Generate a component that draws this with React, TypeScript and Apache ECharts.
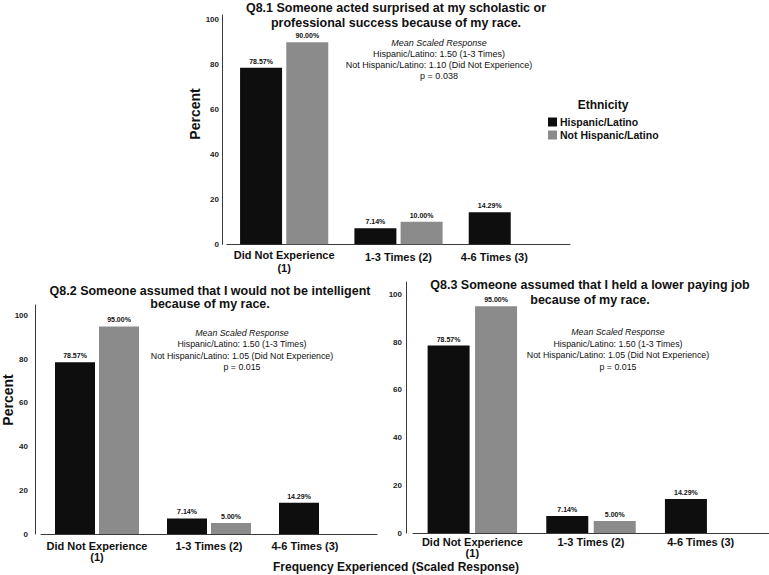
import React, { useEffect, useRef } from 'react';
import * as echarts from 'echarts';

const categories = ['Did Not Experience\n(1)', '1-3 Times (2)', '4-6 Times (3)'];
const groupNames = ['Hispanic/Latino', 'Not Hispanic/Latino'];

const q81Hispanic = [78.57, 7.14, 14.29];
const q81NotHispanic = [90.0, 10.0, null];
const q82Hispanic = [78.57, 7.14, 14.29];
const q82NotHispanic = [95.0, 5.0, null];
const q83Hispanic = [78.57, 7.14, 14.29];
const q83NotHispanic = [95.0, 5.0, null];

const titles = [
  'Q8.1 Someone acted surprised at my scholastic or\nprofessional success because of my race.',
  'Q8.2 Someone assumed that I would not be intelligent\nbecause of my race.',
  'Q8.3 Someone assumed that I held a lower paying job\nbecause of my race.',
];

const notes = [
  ['Mean Scaled Response', 'Hispanic/Latino: 1.50 (1-3 Times)', 'Not Hispanic/Latino: 1.10 (Did Not Experience)', 'p = 0.038'],
  ['Mean Scaled Response', 'Hispanic/Latino: 1.50 (1-3 Times)', 'Not Hispanic/Latino: 1.05 (Did Not Experience)', 'p = 0.015'],
  ['Mean Scaled Response', 'Hispanic/Latino: 1.50 (1-3 Times)', 'Not Hispanic/Latino: 1.05 (Did Not Experience)', 'p = 0.015'],
];

const yTicks = [0, 20, 40, 60, 80, 100];

const FONT = '"Liberation Sans", Arial, Helvetica, sans-serif';
const BLACK = '#0e0e0e';
const GRAY = '#8b8b8b';
const AXIS = '#3a3a3a';

export default function App() {
  const ref = useRef<HTMLDivElement>(null);

  useEffect(() => {
    if (!ref.current) return;
    const chart = echarts.init(ref.current, undefined, { renderer: 'svg' });

    const panels = [
      { left: 227, top: 15, width: 343, height: 229.3, max: 102.1, yOffset: 5, yMargin: 3, barWidth: 42, barGap: '10%', xMargin: 4, lh: 13, singlePad: 4, cat3Pad: 37, data: [q81Hispanic, q81NotHispanic] },
      { left: 41, top: 305, width: 336, height: 229, max: 104.8, yOffset: 6, yMargin: 7, barWidth: 40, barGap: '10%', xMargin: 6, lh: 11.5, singlePad: 0, cat3Pad: 32, data: [q82Hispanic, q82NotHispanic] },
      { left: 413, top: 282, width: 361, height: 251, max: 105.2, yOffset: 7, yMargin: 4, barWidth: 42, barGap: '13%', xMargin: 3, lh: 11.5, singlePad: 0, cat3Pad: 18, data: [q83Hispanic, q83NotHispanic] },
    ];

    const grids = panels.map((p) => ({ left: p.left, top: p.top, width: p.width, height: p.height, containLabel: false }));

    const xAxes = panels.map((p, i) => ({
      type: 'category',
      gridIndex: i,
      data: categories,
      axisLine: { show: true, lineStyle: { color: AXIS, width: 1 } },
      axisTick: { show: false },
      axisLabel: {
        interval: 0,
        margin: p.xMargin,
        fontFamily: FONT,
        fontSize: 11,
        fontWeight: 'bold',
        color: '#111',
        lineHeight: p.lh,
        formatter: (val: string, idx: number) => {
          if (idx === 2) return `{c|${val}}`;
          if (idx === 1) return `{s|${val}}`;
          return val;
        },
        rich: {
          s: { fontFamily: FONT, fontSize: 11, fontWeight: 'bold', color: '#111', padding: [p.singlePad, 0, 0, 0] },
          c: { fontFamily: FONT, fontSize: 11, fontWeight: 'bold', color: '#111', padding: [p.singlePad, p.cat3Pad, 0, 0] },
        },
      },
    }));

    const yAxes = panels.map((p, i) => ({
      type: 'value',
      gridIndex: i,
      min: 0,
      max: p.max,
      interval: 20,
      offset: p.yOffset,
      splitLine: { show: false },
      axisLine: { show: true, lineStyle: { color: AXIS, width: 1 } },
      axisTick: { show: false },
      axisLabel: {
        margin: p.yMargin,
        fontFamily: FONT,
        fontSize: 8,
        fontWeight: 'bold',
        color: '#222',
        formatter: (v: number) => (yTicks.indexOf(v) >= 0 ? String(v) : ''),
      },
    }));

    const series: any[] = [];
    panels.forEach((p, i) => {
      p.data.forEach((vals, k) => {
        series.push({
          type: 'bar',
          name: groupNames[k],
          xAxisIndex: i,
          yAxisIndex: i,
          data: vals.map((v) => (v == null ? '-' : v)),
          barWidth: p.barWidth,
          barGap: p.barGap,
          itemStyle: { color: k === 0 ? BLACK : GRAY },
          label: {
            show: true,
            position: 'top',
            distance: 3,
            fontFamily: FONT,
            fontSize: 7,
            fontWeight: 'bold',
            color: '#111',
            formatter: (prm: any) => (typeof prm.value === 'number' ? prm.value.toFixed(2) + '%' : ''),
          },
        });
      });
    });

    const titleCfg = [
      { x: 396, top: 0, lh: 15.5 },
      { x: 210, top: 284, lh: 13.5 },
      { x: 590, top: 277.5, lh: 15 },
    ];

    const noteCfg = [
      { x: 439, y: 59.5, lh: 11, fs: 9 },
      { x: 242, y: 350, lh: 11.3, fs: 8.8 },
      { x: 618, y: 349.5, lh: 11.5, fs: 8.8 },
    ];

    const graphics: any[] = [];
    noteCfg.forEach((c, i) => {
      const lines = notes[i];
      graphics.push({
        type: 'text',
        x: c.x,
        y: c.y,
        silent: true,
        style: {
          text: `{i|${lines[0]}}\n{n|${lines[1]}}\n{n|${lines[2]}}\n{n|${lines[3]}}`,
          align: 'center',
          verticalAlign: 'middle',
          fill: '#111',
          fontFamily: FONT,
          fontSize: c.fs,
          rich: {
            i: { fontFamily: FONT, fontSize: c.fs, fontStyle: 'italic', lineHeight: c.lh, fill: '#111', color: '#111' },
            n: { fontFamily: FONT, fontSize: c.fs, lineHeight: c.lh, fill: '#111', color: '#111' },
          },
        },
      });
    });

    graphics.push({
      type: 'text', x: 195, y: 114, rotation: Math.PI / 2, silent: true,
      style: { text: 'Percent', align: 'center', verticalAlign: 'middle', fontFamily: FONT, fontSize: 14, fontWeight: 'bold', fill: '#111' },
    });
    graphics.push({
      type: 'text', x: 8, y: 400, rotation: Math.PI / 2, silent: true,
      style: { text: 'Percent', align: 'center', verticalAlign: 'middle', fontFamily: FONT, fontSize: 14, fontWeight: 'bold', fill: '#111' },
    });
    graphics.push({
      type: 'text', x: 603, y: 105, silent: true,
      style: { text: 'Ethnicity', align: 'center', verticalAlign: 'middle', fontFamily: FONT, fontSize: 12, fontWeight: 'bold', fill: '#111' },
    });
    graphics.push({
      type: 'text', x: 396, y: 567, silent: true,
      style: { text: 'Frequency Experienced (Scaled Response)', align: 'center', verticalAlign: 'middle', fontFamily: FONT, fontSize: 12, fontWeight: 'bold', fill: '#111' },
    });

    chart.setOption({
      animation: false,
      backgroundColor: '#ffffff',
      title: titleCfg.map((c, i) => ({
        text: titles[i],
        left: c.x,
        top: c.top,
        textAlign: 'center',
        padding: 0,
        textStyle: { fontFamily: FONT, fontSize: 12.5, fontWeight: 'bold', color: '#111', lineHeight: c.lh },
      })),
      legend: {
        data: groupNames,
        orient: 'vertical',
        left: 548,
        top: 116.5,
        padding: 0,
        itemWidth: 9,
        itemHeight: 9,
        itemGap: 2,
        icon: 'rect',
        selectedMode: false,
        textStyle: { fontFamily: FONT, fontSize: 10.5, fontWeight: 'bold', color: '#111', lineHeight: 10, padding: [0, 0, 0, -2] },
      },
      grid: grids,
      xAxis: xAxes,
      yAxis: yAxes,
      series,
      graphic: graphics,
    });

    return () => chart.dispose();
  }, []);

  return <div ref={ref} style={{ position: 'fixed', left: 0, top: 0, width: 769, height: 575, background: '#fff' }} />;
}
